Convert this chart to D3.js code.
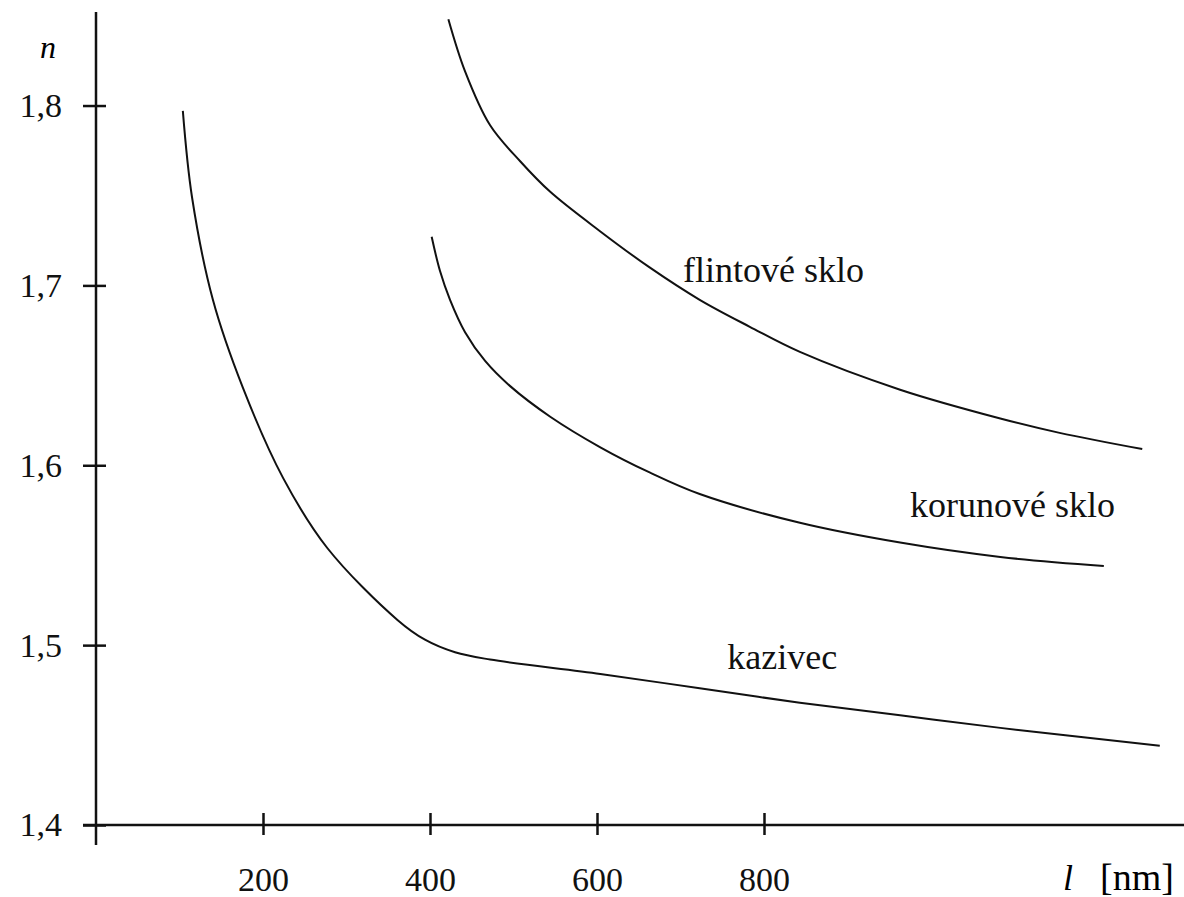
<!DOCTYPE html>
<html>
<head>
<meta charset="utf-8">
<script src="https://cdn.jsdelivr.net/npm/d3@7"></script>
<style>
  body { margin: 0; background: #fff; }
</style>
</head>
<body>
<div id="d3-container"></div>
<script>
// wavelength [nm] and refractive index
const flintWave = [422, 442, 472, 508, 544, 604, 663, 723, 783, 843, 963, 1083, 1154, 1253];
const flintN = [1.848, 1.819, 1.789, 1.769, 1.752, 1.730, 1.710, 1.692, 1.677, 1.663, 1.642, 1.626, 1.618, 1.609];

const crownWave = [402, 412, 424, 442, 466, 496, 544, 604, 663, 723, 843, 963, 1083, 1207];
const crownN = [1.727, 1.708, 1.692, 1.674, 1.658, 1.644, 1.627, 1.610, 1.596, 1.584, 1.568, 1.557, 1.549, 1.544];

const fluoriteWave = [104, 115, 140, 176, 224, 277, 361, 394, 430, 472, 604, 723, 843, 963, 1083, 1274];
const fluoriteN = [1.797, 1.749, 1.692, 1.643, 1.593, 1.554, 1.514, 1.503, 1.496, 1.492, 1.484, 1.476, 1.468, 1.461, 1.454, 1.444];

const xTicks = [200, 400, 600, 800];
const yTicks = [1.4, 1.5, 1.6, 1.7, 1.8];

const labels = [
  {text: 'flintové sklo', x: 703, y: 1.702},
  {text: 'korunové sklo', x: 975, y: 1.571},
  {text: 'kazivec', x: 756, y: 1.487}
];

const serif = "'Liberation Serif', 'Times New Roman', 'DejaVu Serif', serif";

const width = 1184;
const height = 897;
const margin = {top: 12, bottom: 72, left: 96, right: 0};

const svg = d3.select('#d3-container')
  .append('svg')
  .attr('width', width)
  .attr('height', height)
  .attr('viewBox', [0, 0, width, height])
  .style('font-family', serif);

const x = d3.scaleLinear()
  .domain([0, 1303])
  .range([margin.left, width - margin.right]);

const y = d3.scaleLinear()
  .domain([1.4, 1.852])
  .range([height - margin.bottom, margin.top]);

const line = d3.line()
  .x(d => x(d[0]))
  .y(d => y(d[1]))
  .curve(d3.curveCatmullRom.alpha(0.5));

const series = [
  d3.zip(flintWave, flintN),
  d3.zip(crownWave, crownN),
  d3.zip(fluoriteWave, fluoriteN)
];

svg.append('g')
  .attr('fill', 'none')
  .attr('stroke', '#111')
  .attr('stroke-width', 2)
  .selectAll('path')
  .data(series)
  .join('path')
    .attr('d', line);

function xAxis(g) {
  g.attr('transform', `translate(0, ${y(1.4)})`)
    .call(d3.axisBottom(x).tickValues(xTicks).tickSize(0).tickPadding(42))
    .attr('font-size', 34)
    .attr('font-family', serif);
  g.select('.domain').remove();
  g.selectAll('.tick line')
    .attr('y1', -12).attr('y2', 10)
    .attr('stroke', '#111').attr('stroke-width', 2.5);
  g.selectAll('.tick text').attr('fill', '#111');
  g.append('line')
    .attr('x1', margin.left - 13).attr('x2', width)
    .attr('stroke', '#111').attr('stroke-width', 2.5);
}

function yAxis(g) {
  g.attr('transform', `translate(${margin.left}, 0)`)
    .call(d3.axisLeft(y).tickValues(yTicks).tickSize(0).tickPadding(34)
      .tickFormat(d => d3.format('.1f')(d).replace('.', ',')))
    .attr('font-size', 34)
    .attr('font-family', serif);
  g.select('.domain').remove();
  g.selectAll('.tick line')
    .attr('x1', -13).attr('x2', 10)
    .attr('stroke', '#111').attr('stroke-width', 2.5);
  g.selectAll('.tick text').attr('fill', '#111');
  g.append('line')
    .attr('y1', margin.top).attr('y2', y(1.4) + 20)
    .attr('stroke', '#111').attr('stroke-width', 2.5);
}

svg.append('g').call(yAxis);
svg.append('g').call(xAxis);

svg.append('g')
  .attr('font-size', 36)
  .attr('font-family', serif)
  .attr('fill', '#111')
  .selectAll('text')
  .data(labels)
  .join('text')
    .attr('x', d => x(d.x))
    .attr('y', d => y(d.y))
    .text(d => d.text);

svg.append('text')
  .attr('x', 40).attr('y', 58)
  .attr('font-size', 32)
  .attr('font-family', serif)
  .attr('font-style', 'italic')
  .text('n');

svg.append('text')
  .attr('x', 1063).attr('y', 890)
  .attr('font-size', 36)
  .attr('font-family', serif)
  .attr('font-style', 'italic')
  .text('l');

svg.append('text')
  .attr('x', 1100).attr('y', 890)
  .attr('font-size', 38)
  .attr('font-family', serif)
  .text('[nm]');
</script>
</body>
</html>
